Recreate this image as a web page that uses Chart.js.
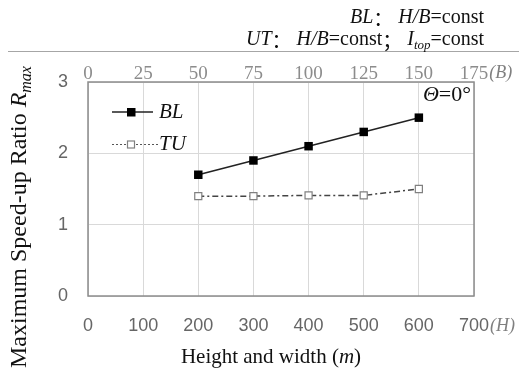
<!DOCTYPE html>
<html>
<head>
<meta charset="utf-8">
<script src="https://cdn.jsdelivr.net/npm/chart.js@4.4.0/dist/chart.umd.min.js"></script>
<style>
  html, body { margin: 0; padding: 0; background: #fff; }
  #wrap { width: 519px; height: 373px; }
</style>
</head>
<body>
<div id="wrap"><canvas id="speedupChart" width="519" height="373"></canvas></div>
<script>
const heights = [200, 300, 400, 500, 600];
const blRatio = [1.7, 1.9, 2.1, 2.3, 2.5];
const tuRatio = [1.4, 1.4, 1.41, 1.41, 1.5];
const hTicks = [0, 100, 200, 300, 400, 500, 600, 700];
const bTicks = [0, 25, 50, 75, 100, 125, 150, 175];
const ratioTicks = [0, 1, 2, 3];

const SERIF = '"Liberation Serif", "Times New Roman", serif';
const SANS = '"Liberation Sans", Arial, sans-serif';
const CJK = '"Noto Sans CJK SC", sans-serif';

// parts: [text, italic, subscript, family]
function richText(ctx, parts, x, y, size, align) {
  const fontOf = p => (p[1] ? 'italic ' : '') + (p[2] ? Math.round(size * 0.65) : size) + 'px ' + (p[3] || SERIF);
  let w = 0;
  parts.forEach(p => { ctx.font = fontOf(p); w += ctx.measureText(p[0]).width; });
  let cx = align === 'right' ? x - w : align === 'center' ? x - w / 2 : x;
  ctx.textAlign = 'left';
  ctx.textBaseline = 'middle';
  parts.forEach(p => {
    ctx.font = fontOf(p);
    ctx.fillText(p[0], cx, p[2] ? y + size * 0.28 : y);
    cx += ctx.measureText(p[0]).width;
  });
}

const annotations = {
  id: 'annotations',
  afterDraw(chart) {
    const ctx = chart.ctx;
    const a = chart.chartArea;
    ctx.save();

    // plot frame
    ctx.strokeStyle = '#8c8c8c';
    ctx.lineWidth = 1.5;
    ctx.strokeRect(a.left, a.top, a.right - a.left, a.bottom - a.top);

    // rule under the case notes
    ctx.strokeStyle = '#a6a6a6';
    ctx.lineWidth = 1;
    ctx.beginPath();
    ctx.moveTo(8, 51.5);
    ctx.lineTo(519, 51.5);
    ctx.stroke();

    ctx.fillStyle = '#111';
    richText(ctx, [['BL', true], ['：', false, false, CJK], [' H/B', true], ['=const', false]], 484, 18, 20, 'right');
    richText(ctx, [['UT', true], ['：', false, false, CJK], [' H/B', true], ['=const', false], ['；', false, false, CJK], [' I', true], ['top', true, true], ['=const', false]], 484, 40, 20, 'right');

    // unit markers after the last tick labels
    ctx.fillStyle = '#808080';
    ctx.font = '18px ' + SANS;
    const w700 = ctx.measureText('700').width;
    richText(ctx, [['(H)', true]], a.right + w700 / 2 + 1, a.bottom + 30, 18, 'left');
    ctx.font = '19px ' + SERIF;
    const w175 = ctx.measureText('175').width;
    richText(ctx, [['(B)', true]], a.right + w175 / 2 + 1, a.top - 9, 18, 'left');

    // axis titles
    ctx.fillStyle = '#111';
    richText(ctx, [['Height and width (', false], ['m', true], [')', false]], 271, 357, 21, 'center');
    ctx.save();
    ctx.translate(20, 217);
    ctx.rotate(-Math.PI / 2);
    richText(ctx, [['Maximum Speed-up Ratio ', false], ['R', true], ['max', true, true]], 0, 0, 24, 'center');
    ctx.restore();

    // legend
    ctx.lineWidth = 1.5;
    ctx.strokeStyle = '#222';
    ctx.beginPath();
    ctx.moveTo(112, 112);
    ctx.lineTo(153, 112);
    ctx.stroke();
    ctx.fillStyle = '#000';
    ctx.fillRect(127, 108, 8.5, 8.5);
    ctx.fillStyle = '#111';
    richText(ctx, [['BL', true]], 159, 112, 21, 'left');

    ctx.strokeStyle = '#555';
    ctx.lineWidth = 1.2;
    ctx.setLineDash([2, 2]);
    ctx.beginPath();
    ctx.moveTo(112, 144.5);
    ctx.lineTo(158, 144.5);
    ctx.stroke();
    ctx.setLineDash([]);
    ctx.fillStyle = '#fff';
    ctx.fillRect(127.5, 141, 7, 7);
    ctx.strokeStyle = '#808080';
    ctx.strokeRect(127.5, 141, 7, 7);
    ctx.fillStyle = '#111';
    richText(ctx, [['TU', true]], 159, 144, 21, 'left');

    // incidence angle
    richText(ctx, [['Θ', true], ['=0°', false]], 471, 95, 22, 'right');
    ctx.restore();
  }
};

new Chart(document.getElementById('speedupChart'), {
  type: 'line',
  data: {
    datasets: [
      {
        label: 'BL',
        data: heights.map((h, i) => ({ x: h, y: blRatio[i] })),
        borderColor: '#222',
        borderWidth: 1.5,
        pointStyle: 'rect',
        pointRadius: 6,
        pointBackgroundColor: '#000',
        pointBorderColor: '#000',
        pointBorderWidth: 0,
      },
      {
        label: 'TU',
        data: heights.map((h, i) => ({ x: h, y: tuRatio[i] })),
        borderColor: '#444',
        borderWidth: 1.5,
        borderDash: [6, 3, 2, 3],
        pointStyle: 'rect',
        pointRadius: 5,
        pointBackgroundColor: '#fff',
        pointBorderColor: '#808080',
        pointBorderWidth: 1.2,
      },
    ],
  },
  options: {
    responsive: false,
    animation: false,
    devicePixelRatio: 1,
    layout: { padding: { left: 0, top: 0, right: 45, bottom: 0 } },
    plugins: {
      legend: { display: false },
      tooltip: { enabled: false },
    },
    scales: {
      x: {
        type: 'linear',
        position: 'bottom',
        min: 0,
        max: 700,
        afterBuildTicks: s => { s.ticks = hTicks.map(v => ({ value: v })); },
        afterFit: s => { s.height = 77; },
        grid: { color: '#d9d9d9', drawTicks: false },
        border: { display: false },
        ticks: { color: '#666', padding: 19, font: { family: SANS, size: 18 } },
      },
      x2: {
        type: 'linear',
        position: 'top',
        min: 0,
        max: 175,
        afterBuildTicks: s => { s.ticks = bTicks.map(v => ({ value: v })); },
        afterFit: s => { s.height = 82; },
        grid: { display: false, drawTicks: false },
        border: { display: false },
        ticks: { color: '#8c8c8c', padding: -3, font: { family: SERIF, size: 19 } },
      },
      y: {
        min: 0,
        max: 3,
        afterBuildTicks: s => { s.ticks = ratioTicks.map(v => ({ value: v })); },
        afterFit: s => { s.width = 88; },
        grid: { color: '#d9d9d9', drawTicks: false },
        border: { display: false },
        ticks: { color: '#666', padding: 20, font: { family: SANS, size: 18 } },
      },
    },
  },
  plugins: [annotations],
});
</script>
</body>
</html>
